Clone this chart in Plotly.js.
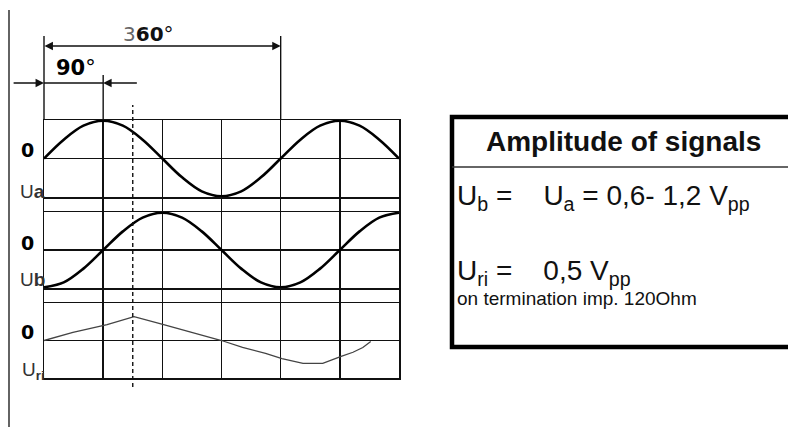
<!DOCTYPE html>
<html>
<head>
<meta charset="utf-8">
<script src="https://cdn.plot.ly/plotly-3.0.1.min.js"></script>
<style>
  html, body { margin: 0; padding: 0; background: #fff; }
  #chart { width: 788px; height: 427px; }
</style>
</head>
<body>
<div id="chart"></div>
<script>
// Incremental encoder output signals: Ua, Ub (90° shifted) and reference Uri

// Phase in degrees, sampled every 30°
const phaseDeg = [0, 30, 60, 90, 120, 150, 180, 210, 240, 270, 300, 330, 360, 390, 420, 450, 480, 510, 540];
// Normalised signal levels (peak = 1)
const uaValues = [0, 0.5, 0.87, 1, 0.87, 0.5, 0, -0.5, -0.87, -1, -0.87, -0.5, 0, 0.5, 0.87, 1, 0.87, 0.5, 0];
const ubValues = [-1, -0.87, -0.5, 0, 0.5, 0.87, 1, 0.87, 0.5, 0, -0.5, -0.87, -1, -0.87, -0.5, 0, 0.5, 0.87, 1];

// Reference pulse Uri
const uriDeg = [0, 44, 96, 137, 182, 223, 270, 302, 337, 362, 394, 424, 439, 452, 470, 485, 497];
const uriValues = [0, 0.22, 0.43, 0.65, 0.43, 0.22, 0, -0.19, -0.35, -0.49, -0.62, -0.62, -0.51, -0.43, -0.32, -0.19, -0.03];

// Dimensioned angles
const PERIOD_DEG = 360;
const QUARTER_DEG = 90;
const MARKER_DEG = 135;
const PHASE_RANGE = [0, 540];

// Signal labels
const zeroLabel = '0';
const signalLabels = ['U<b>a</b>', 'U<b>b</b>', 'U<sub><b>ri</b></sub>'];

// Amplitude table
const tableTitle = '<b>Amplitude of signals</b>';
const tableLines = [
  'U<sub>b</sub> =\u00a0\u00a0\u00a0 U<sub>a</sub> = 0,6- 1,2 V<sub>pp</sub>',
  'U<sub>ri</sub> =\u00a0\u00a0\u00a0 0,5 V<sub>pp</sub>',
  'on termination imp. 120Ohm'
];

// page geometry helpers (pixel -> paper fraction)
const W = 788, H = 427;
const px = v => v / W;
const py = v => 1 - v / H;

const X_DOMAIN = [px(44), px(399)];
const INK = '#111';

const panelAxis = (top, bottom) => ({
  domain: [py(bottom), py(top)],
  range: [-1.02, 1.02],
  anchor: 'x',
  showgrid: false,
  zeroline: true,
  zerolinecolor: INK,
  zerolinewidth: 1.5,
  showticklabels: false,
  ticks: '',
  fixedrange: true
});

const traces = [
  // empty trace so the full-height frame subplot is drawn
  { x: [], y: [], type: 'scatter', mode: 'lines', yaxis: 'y', hoverinfo: 'skip' },
  { x: phaseDeg, y: uaValues, yaxis: 'y2', type: 'scatter', mode: 'lines',
    line: { color: '#000', width: 2.6, shape: 'spline', smoothing: 1 }, hoverinfo: 'skip' },
  { x: phaseDeg, y: ubValues, yaxis: 'y3', type: 'scatter', mode: 'lines',
    line: { color: '#000', width: 2.6, shape: 'spline', smoothing: 1 }, hoverinfo: 'skip' },
  { x: uriDeg, y: uriValues, yaxis: 'y4', type: 'scatter', mode: 'lines',
    line: { color: '#444', width: 1.3 }, hoverinfo: 'skip' }
];

const vline = (xref, x, yTop, yBottom, extra) => Object.assign({
  type: 'line', xref: xref, yref: 'paper', x0: x, x1: x, y0: py(yBottom), y1: py(yTop),
  line: { color: INK, width: 1.4 }
}, extra || {});

const shapes = [
  // left margin rule
  { type: 'line', xref: 'paper', yref: 'paper', x0: px(9), x1: px(9), y0: 0, y1: py(10),
    line: { color: '#222', width: 1.4 } },
  // extension lines for the dimensions
  vline('paper', X_DOMAIN[0], 36, 120),
  vline('x', PERIOD_DEG, 36, 120),
  vline('x', QUARTER_DEG, 75, 120),
  // dashed phase marker through all three traces
  vline('x', MARKER_DEG, 105, 387, { line: { color: INK, width: 1.4, dash: '4px,3px' } }),
  // 90° dimension line between its arrows
  { type: 'line', xref: 'x', yref: 'paper', x0: 0, x1: QUARTER_DEG, y0: py(83), y1: py(83),
    line: { color: INK, width: 1.3 } },
  // amplitude table frame
  { type: 'rect', xref: 'paper', yref: 'paper', x0: px(452), x1: 1.05, y0: py(347), y1: py(117),
    line: { color: '#000', width: 4.5 }, fillcolor: 'rgba(0,0,0,0)' },
  { type: 'line', xref: 'paper', yref: 'paper', x0: px(452), x1: 1, y0: py(167), y1: py(167),
    line: { color: '#333', width: 1.5 } }
];

const arrowBase = {
  xref: 'x', yref: 'paper', axref: 'x', ayref: 'pixel', ay: 0,
  text: ' ', font: { size: 1 }, borderpad: 0,
  showarrow: true, arrowhead: 2, arrowsize: 1.3, arrowwidth: 1.3, arrowcolor: INK
};

const label = (xref, x, y, text, font, xanchor) => ({
  xref: xref, yref: 'paper', x: x, y: py(y), text: text, font: font,
  xanchor: xanchor || 'center', yanchor: 'middle', showarrow: false
});

const annotations = [
  // 360° period dimension
  Object.assign({}, arrowBase, { x: PERIOD_DEG, ax: 0, y: py(46),
    arrowside: 'end+start', startarrowhead: 2, startarrowsize: 1.3 }),
  // 90° dimension arrows
  Object.assign({}, arrowBase, { x: 0, ax: -47, y: py(83) }),
  Object.assign({}, arrowBase, { x: QUARTER_DEG, ax: 142, y: py(83) }),
  label('x', 159, 34, '<span style="color:#666">3</span><b>60</b>°',
    { family: 'DejaVu Sans', size: 20, color: '#111' }),
  label('x', 48, 68, '<b>90</b>°', { family: 'DejaVu Sans', size: 21, color: '#000' }),

  // zero markers and signal names on the left
  ...[150, 243, 332].map(y => label('paper', px(27), y, '<b>' + zeroLabel + '</b>',
    { family: 'DejaVu Sans', size: 19, color: '#000' })),
  ...[191, 279, 371].map((y, i) => label('paper', px(47), y, signalLabels[i],
    { family: 'Liberation Sans', size: 19, color: '#333' }, 'right')),

  // amplitude table text
  label('paper', px(623), 142, tableTitle, { family: 'Liberation Sans', size: 28, color: '#111' }),
  label('paper', px(455), 197, tableLines[0], { family: 'Liberation Sans', size: 28, color: '#111' }, 'left'),
  label('paper', px(455), 272, tableLines[1], { family: 'Liberation Sans', size: 28, color: '#111' }, 'left'),
  label('paper', px(455), 298, tableLines[2], { family: 'Liberation Sans', size: 19, color: '#111' }, 'left')
];

const layout = {
  width: W, height: H,
  margin: { l: 0, r: 0, t: 0, b: 0, pad: 0 },
  paper_bgcolor: '#fff',
  plot_bgcolor: 'rgba(0,0,0,0)',
  showlegend: false,
  xaxis: {
    domain: X_DOMAIN, range: PHASE_RANGE, tick0: 0, dtick: QUARTER_DEG,
    showgrid: true, gridcolor: INK, gridwidth: 1.5,
    showline: true, linecolor: INK, linewidth: 1.5, mirror: 'all',
    zeroline: false, ticks: '', showticklabels: false, fixedrange: true
  },
  // full-height frame holding the vertical grid lines
  yaxis: {
    domain: [py(378), py(120)], range: [0, 1],
    showgrid: false, zeroline: false, showticklabels: false, ticks: '',
    showline: true, linecolor: INK, linewidth: 1.5, mirror: true, fixedrange: true
  },
  yaxis2: panelAxis(120, 197),
  yaxis3: panelAxis(212, 288),
  yaxis4: panelAxis(303, 378),
  shapes: shapes,
  annotations: annotations
};

Plotly.newPlot('chart', traces, layout, { staticPlot: true, displayModeBar: false });
</script>
</body>
</html>
